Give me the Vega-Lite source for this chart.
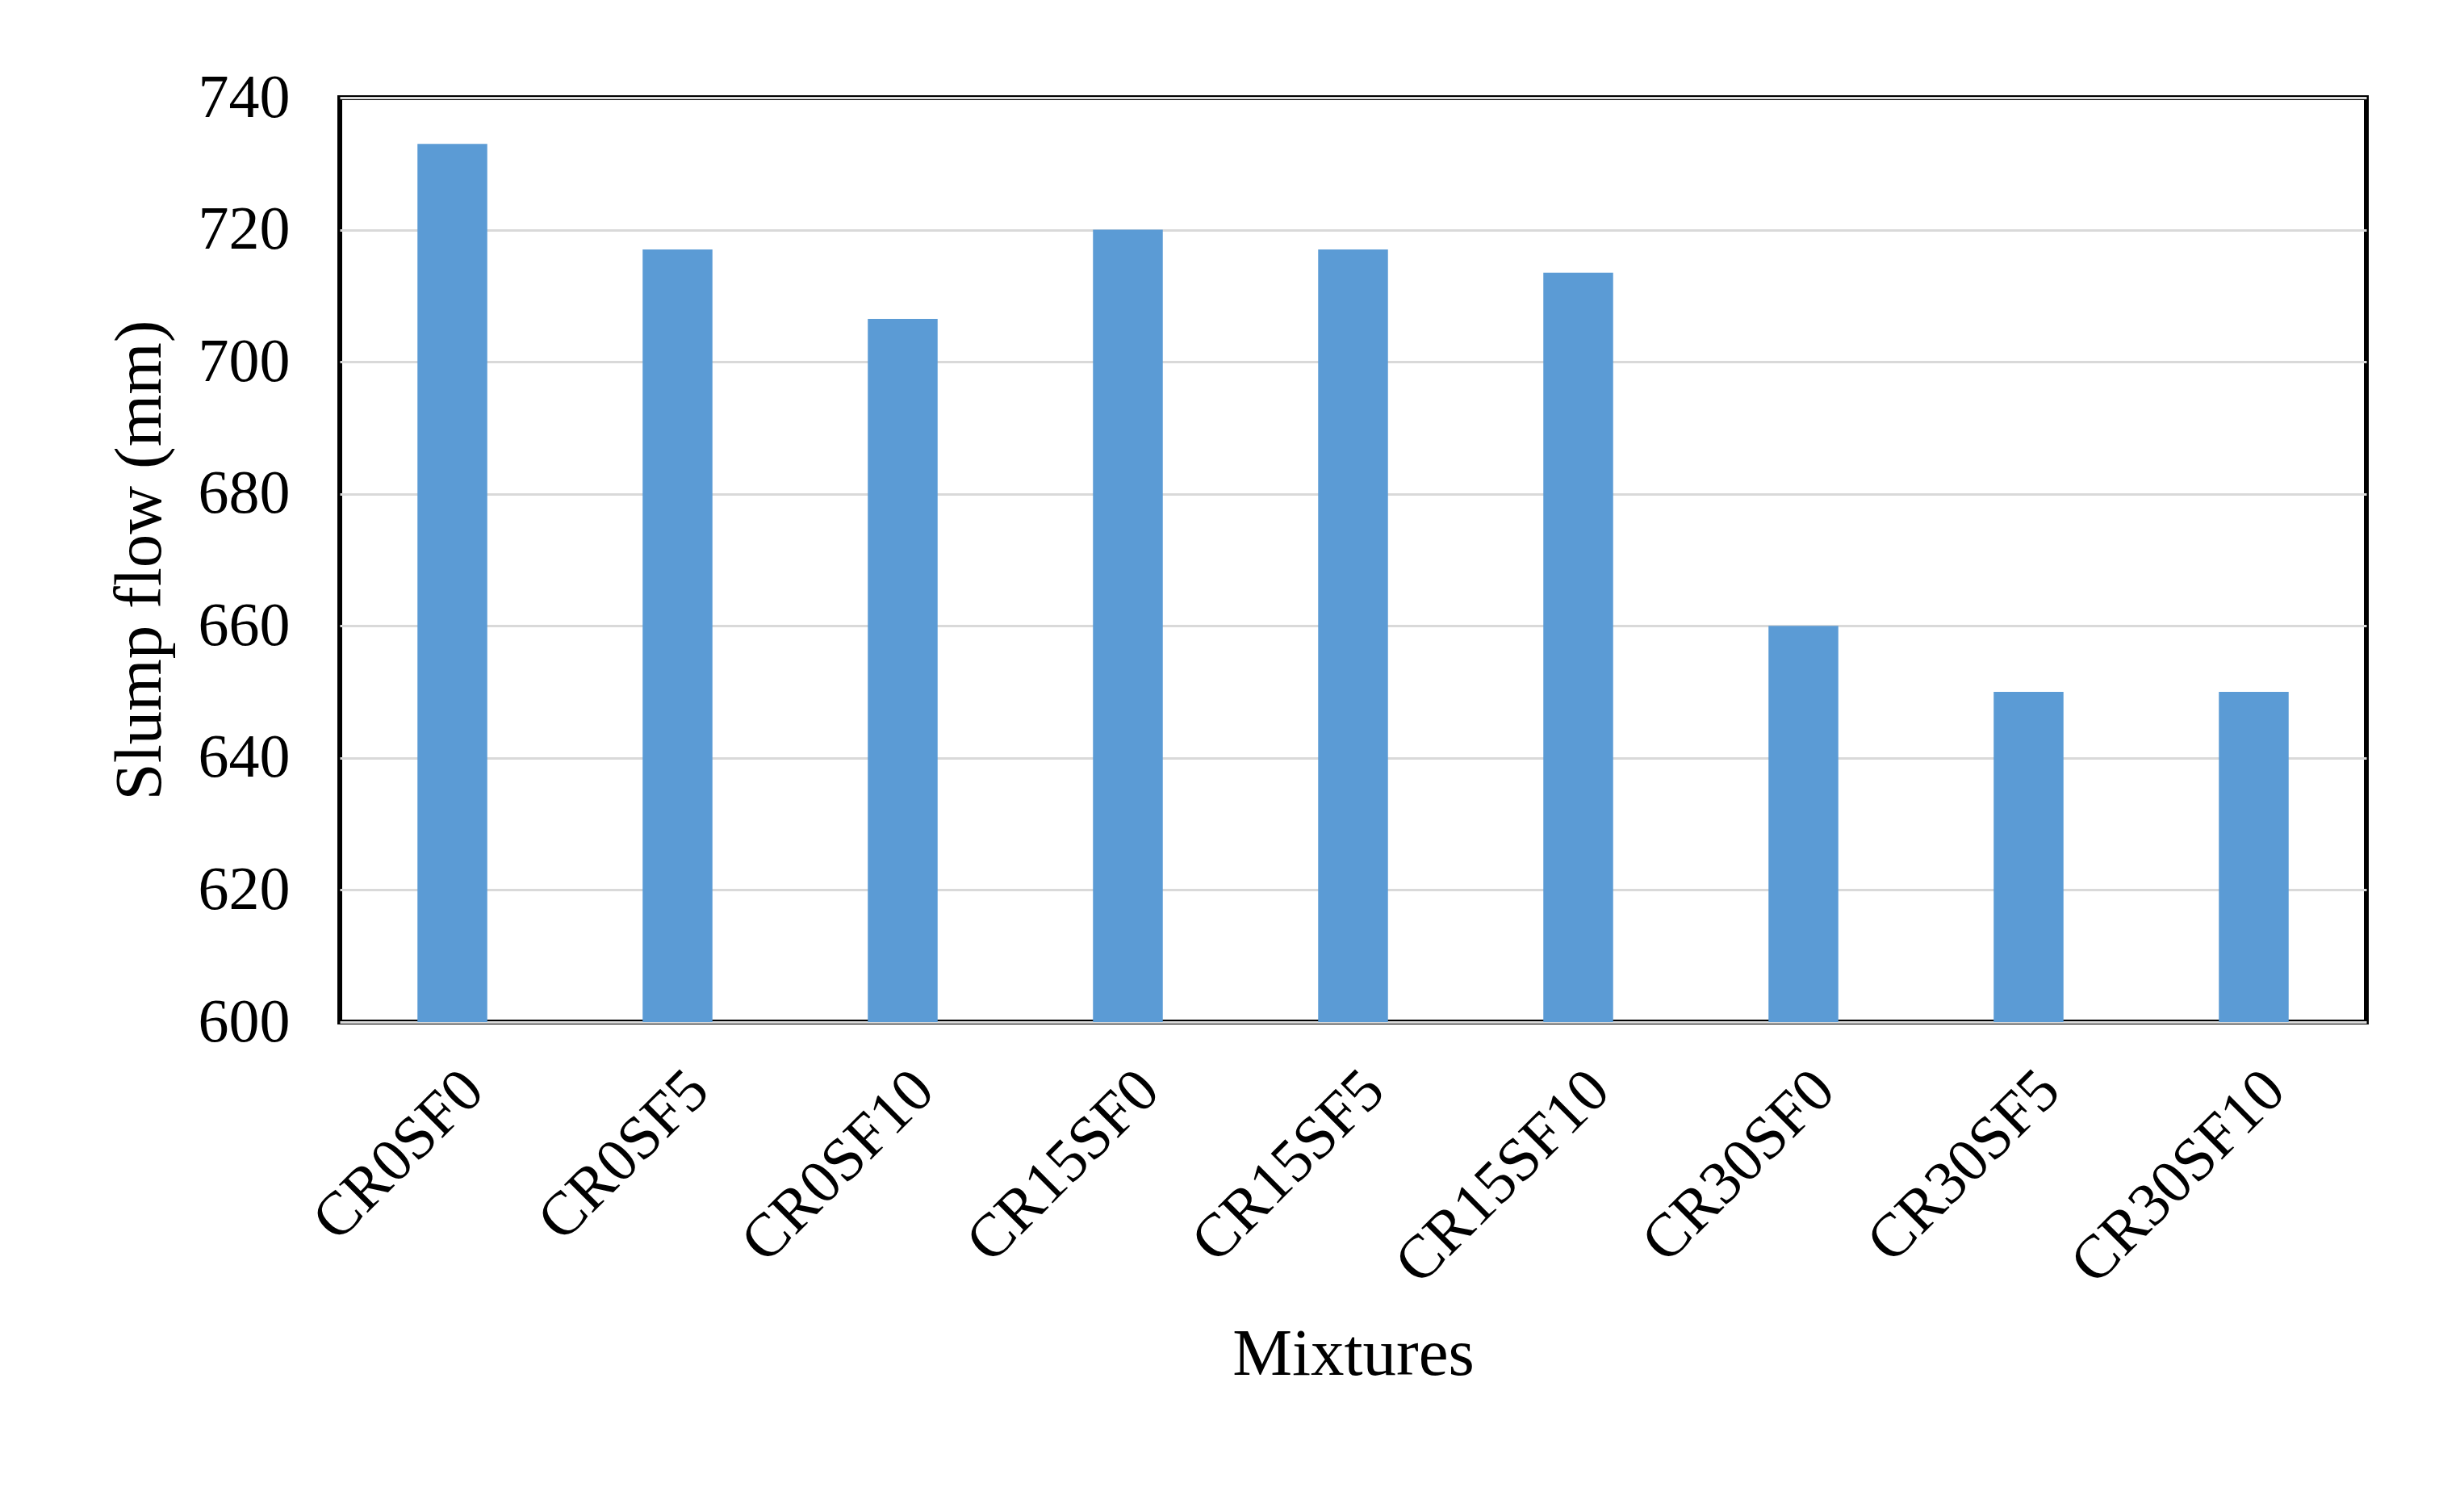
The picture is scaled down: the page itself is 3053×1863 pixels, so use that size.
{
  "$schema": "https://vega.github.io/schema/vega-lite/v6.json",
  "autosize": "none",
  "width": 2511,
  "height": 1145,
  "padding": {"left": 421, "top": 121, "right": 121, "bottom": 597},
  "background": "white",
  "data": {
    "values": [
      {"mix": "CR0SF0", "flow": 733},
      {"mix": "CR0SF5", "flow": 717},
      {"mix": "CR0SF10", "flow": 706.5},
      {"mix": "CR15SF0", "flow": 720},
      {"mix": "CR15SF5", "flow": 717},
      {"mix": "CR15SF10", "flow": 713.5},
      {"mix": "CR30SF0", "flow": 660},
      {"mix": "CR30SF5", "flow": 650},
      {"mix": "CR30SF10", "flow": 650}
    ]
  },
  "mark": {"type": "bar", "color": "#5B9BD5"},
  "encoding": {
    "x": {
      "field": "mix",
      "type": "nominal",
      "sort": null,
      "scale": {"paddingInner": 0.69, "paddingOuter": 0.345},
      "axis": {
        "title": "Mixtures",
        "labelAngle": -45,
        "labelFont": "Liberation Serif",
        "labelFontSize": 76,
        "labelColor": "black",
        "labelPadding": 46,
        "labelLimit": 0,
        "ticks": false,
        "domain": false,
        "titleFont": "Liberation Serif",
        "titleFontSize": 83,
        "titleFontWeight": "normal",
        "titleColor": "black",
        "titlePadding": 170
      }
    },
    "y": {
      "field": "flow",
      "type": "quantitative",
      "scale": {"domain": [600, 740], "zero": false, "nice": false},
      "axis": {
        "title": "Slump flow (mm)",
        "values": [600, 620, 640, 660, 680, 700, 720, 740],
        "labelFont": "Liberation Serif",
        "labelFontSize": 76,
        "labelColor": "black",
        "labelPadding": 62,
        "ticks": false,
        "domain": false,
        "gridColor": "#d9d9d9",
        "gridWidth": 3,
        "titleFont": "Liberation Serif",
        "titleFontSize": 83,
        "titleFontWeight": "normal",
        "titleColor": "black",
        "titlePadding": 30
      }
    },
    "y2": {"datum": 600}
  },
  "config": {
    "view": {"stroke": "black", "strokeWidth": 6}
  }
}
